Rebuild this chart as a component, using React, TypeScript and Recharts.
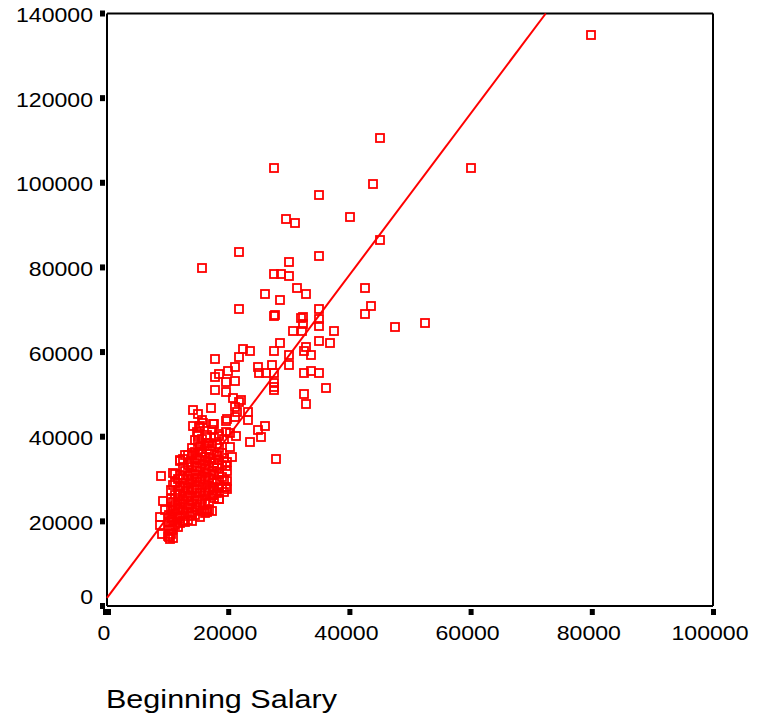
import React from 'react';
import { ScatterChart, Scatter, XAxis, YAxis, ReferenceLine, ZAxis } from 'recharts';

const xTicks = [0, 20000, 40000, 60000, 80000, 100000];
const yTicks = [0, 20000, 40000, 60000, 80000, 100000, 120000, 140000];

// employees outside the dense block
const spreadBegin = [
  79800, 45000, 27500, 60000, 34930, 43840, 29490, 30970, 40050, 45000, 34930, 21730, 15630, 29980, 27500, 28660,
  29980, 31300, 32790, 26020, 28500, 42520, 43510, 42520, 21730, 27500, 27670, 34930, 32290, 31960, 34930, 32290,
  34930, 47470, 52420, 37400, 30640, 32130, 34930, 36750, 28500, 32790, 32460, 33610, 29980, 27500, 23550, 22390,
  21730, 17770, 21070, 19920, 18430, 17770, 21070, 19590, 17770, 19590, 24870, 27180, 29980, 25030, 26190, 27500,
  32460, 33610, 34930, 27500, 27500, 27500, 36090, 32460, 32790, 20740, 22060, 21730, 17110, 14140, 14970, 15630,
  21070, 21400, 23220, 21070, 19750, 23220, 19590, 15790, 17440, 14140, 15130, 26020, 24870, 25360, 23550, 20250,
  21240, 14970, 14970, 16450, 16450, 18430, 20250, 27840, 20580, 19750, 19750, 18430, 18260, 16940, 15630, 14970,
  13980, 12820, 11990, 10840, 8860, 19750, 19750, 18430, 17440, 17440, 16450, 16780, 9190, 9520, 8700, 8700,
  9030, 10350, 10020,
];
const spreadCurrent = [
  134900, 110500, 103430, 103430, 97050, 99650, 91380, 90430, 91850, 86420, 82630, 83580, 79800, 81220, 78380, 78380,
  77910, 75070, 73650, 73650, 72240, 75070, 70820, 68930, 70110, 68450, 68690, 70110, 68220, 67980, 67740, 66560,
  66090, 65850, 66800, 64910, 64910, 64910, 62550, 62080, 62080, 61130, 60190, 59240, 59240, 60190, 60190, 60660,
  58770, 58300, 56410, 55460, 54750, 54040, 53100, 52860, 50970, 50500, 56410, 56880, 56880, 54990, 54990, 54990,
  54990, 55460, 54990, 52630, 51680, 50970, 51440, 50020, 47660, 49080, 48610, 48140, 46720, 46250, 45300, 43880,
  46950, 45770, 45770, 44590, 44120, 43880, 43640, 43170, 42930, 42460, 42220, 42460, 41520, 39860, 38680, 40810,
  40100, 40100, 38680, 39860, 38440, 40100, 37500, 34660, 35130, 33950, 31830, 31590, 34430, 34900, 36320, 36080,
  36080, 35610, 34190, 31360, 30650, 29470, 27580, 25220, 28050, 26170, 22140, 22610, 24740, 22610, 20960, 19070,
  16940, 15760, 16470,
];

// the dense block near the origin: beginning salary, then the current salaries seen around it
const denseRows: [number, number[]][] = [
  [10200, [16200, 18000, 19900, 21600]],
  [10500, [17000, 19000, 21000, 23000, 25200, 27300]],
  [10900, [16000, 18300, 20300, 22400, 24600, 28500]],
  [11300, [19200, 21700, 23800, 26200, 29000, 31200]],
  [11700, [18700, 20800, 22900, 25000, 27500, 30000]],
  [12100, [19600, 21300, 24000, 26500, 28400, 31000, 34500]],
  [12500, [20100, 22800, 25300, 27800, 30200, 32600, 34800]],
  [12900, [19800, 21800, 24200, 26800, 29100, 31800]],
  [13300, [20400, 23200, 25700, 28000, 30600, 33200, 35600]],
  [13700, [21200, 23800, 26300, 29000, 31500, 34100]],
  [14100, [20000, 22300, 24900, 27400, 30100, 32900, 35700, 37400]],
  [14500, [21400, 23400, 26000, 28600, 31200, 33800, 36500, 39200]],
  [14900, [22600, 25000, 27600, 30300, 32800, 35000, 41200]],
  [15300, [21100, 23900, 26700, 29300, 31900, 34600, 37700, 42500]],
  [15700, [22400, 25300, 28200, 30800, 33500, 36300, 39500]],
  [16100, [21900, 24300, 27000, 29700, 32300, 35100, 37900]],
  [16500, [23000, 26000, 28700, 31500, 34200, 37000, 40300]],
  [16900, [24500, 27400, 30200, 33100, 36000, 38600]],
  [17300, [22500, 26200, 29000, 31800, 34800, 37800, 41500]],
  [17700, [25500, 28000, 30900, 33700, 39900, 43000]],
  [18100, [26600, 29600, 32500, 35600, 38300]],
  [18500, [25300, 27900, 31200, 34400, 37300, 40700]],
  [18900, [28200, 30400, 33300, 36200]],
  [19300, [27000, 29700, 34900, 39400]],
  [19700, [28100, 33000, 41200]],
];

// regression line as drawn: where it leaves the left spine and the top spine
const fitBegin = [0, 72400];
const fitCurrent = [1928, 140000];

const points = [
  ...spreadBegin.map((x, i) => ({ x, y: spreadCurrent[i] })),
  ...denseRows.flatMap(([x, ys]) => ys.map(y => ({ x, y }))),
];
const fitPoints = fitBegin.map((x, i) => ({ x, y: fitCurrent[i] }));

const RED = '#ff0000';
const FONT = '"Liberation Sans", Arial, sans-serif';

const SquareMarker = (props: any) => (
  <rect x={Math.round(props.cx) - 4} y={Math.round(props.cy) - 4} width={8} height={8} fill="none" stroke={RED} strokeWidth={1.8} />
);

const XTick = (props: any) => {
  const { x, y, payload } = props;
  // the origin tick is drawn wider in the reference
  const wide = payload.value === 0;
  return (
    <g>
      <rect x={wide ? x - 4 : x - 2} y={y + 1} width={wide ? 8 : 5} height={6} fill="#000" />
      <text transform={`translate(${x - 3},${y + 32}) scale(1.1,1)`} textAnchor="middle" fontSize={21} fontFamily={FONT} fill="#000">
        {payload.value}
      </text>
    </g>
  );
};

const YTick = (props: any) => {
  const { y, payload } = props;
  const dy = payload.value === 0 ? -2 : 8.5;
  return (
    <g>
      <rect x={100} y={y - 3} width={5} height={6} fill="#000" />
      <text transform={`translate(93,${y + dy}) scale(1.1,1)`} textAnchor="end" fontSize={21} fontFamily={FONT} fill="#000">
        {payload.value}
      </text>
    </g>
  );
};

const XTitle = () => (
  <text transform="translate(106,708) scale(1.175,1)" fontSize={26} fontFamily={FONT} fill="#000">
    Beginning Salary
  </text>
);

const App: React.FC = () => {
  return (
    <div style={{ position: 'absolute', left: 0, top: 0, width: 757, height: 715, background: '#fff' }}>
      <ScatterChart width={757} height={715} margin={{ top: 13.5, right: 44, bottom: 0, left: 47 }}>
        <XAxis
          type="number"
          dataKey="x"
          domain={[0, 100000]}
          ticks={xTicks}
          interval={0}
          tick={<XTick />}
          tickLine={false}
          tickSize={0}
          height={109}
          axisLine={{ stroke: '#000', strokeWidth: 2 }}
          label={{ content: <XTitle /> }}
        />
        <YAxis
          type="number"
          dataKey="y"
          domain={[0, 140000]}
          ticks={yTicks}
          interval={0}
          tick={<YTick />}
          tickLine={false}
          tickSize={0}
          width={60}
          axisLine={{ stroke: '#000', strokeWidth: 2 }}
        />
        <ZAxis range={[64, 64]} />
        <ReferenceLine x={100000} stroke="#000" strokeWidth={2} />
        <ReferenceLine y={140000} stroke="#000" strokeWidth={2} />
        <Scatter data={points} shape={<SquareMarker />} isAnimationActive={false} />
        <Scatter data={fitPoints} line={{ stroke: RED, strokeWidth: 2 }} shape={() => <g />} isAnimationActive={false} />
      </ScatterChart>
    </div>
  );
};

export default App;
